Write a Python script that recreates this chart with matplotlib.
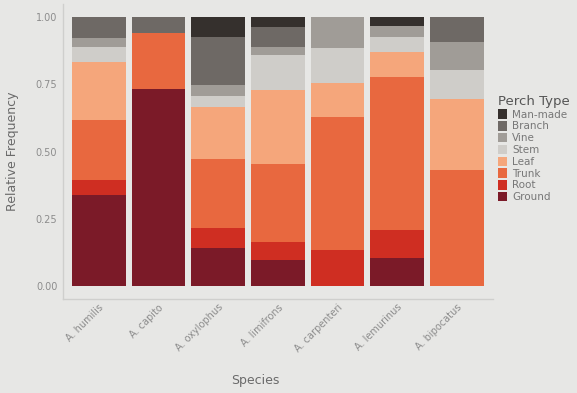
import numpy as np
import matplotlib.pyplot as plt

# species along the x axis
species = ["A. humilis", "A. capito", "A. oxylophus", "A. limifrons",
           "A. carpenteri", "A. lemurinus", "A. bipocatus"]

# relative frequency of each perch type per species (bottom to top)
ground   = [0.338, 0.732, 0.141, 0.097, 0.000, 0.104, 0.000]
root     = [0.056, 0.000, 0.075, 0.067, 0.134, 0.104, 0.000]
trunk    = [0.223, 0.208, 0.256, 0.289, 0.494, 0.569, 0.431]
leaf     = [0.216, 0.000, 0.193, 0.276, 0.127, 0.093, 0.264]
stem     = [0.055, 0.000, 0.041, 0.130, 0.130, 0.056, 0.108]
vine     = [0.034, 0.000, 0.041, 0.029, 0.115, 0.041, 0.104]
branch   = [0.078, 0.060, 0.179, 0.075, 0.000, 0.000, 0.093]
man_made = [0.000, 0.000, 0.074, 0.037, 0.000, 0.033, 0.000]

perch_types = ["Ground", "Root", "Trunk", "Leaf", "Stem", "Vine", "Branch", "Man-made"]
perch_values = [ground, root, trunk, leaf, stem, vine, branch, man_made]
perch_colors = ["#7b1a28", "#cf2e22", "#e8683f", "#f5a67b",
                "#cfcdc9", "#a09c97", "#6e6965", "#35302d"]

bg = "#e7e7e5"
txt = "#8c8c8c"

fig = plt.figure(figsize=(5.77, 3.93), dpi=100, facecolor=bg)
ax = fig.add_axes([0.109, 0.238, 0.745, 0.753], facecolor=bg)

x = np.arange(1, len(species) + 1)
bottom = np.zeros(len(species))
for name, vals, col in zip(perch_types, perch_values, perch_colors):
    vals = np.array(vals)
    ax.bar(x, vals, width=0.9, bottom=bottom, color=col, label=name,
           linewidth=0)
    bottom += vals

ax.set_xlim(0.4, len(species) + 0.6)
ax.set_ylim(-0.05, 1.05)
ax.set_yticks([0, 0.25, 0.5, 0.75, 1.0])
ax.set_yticklabels(["0.00", "0.25", "0.50", "0.75", "1.00"])
ax.set_xticks(x)
ax.set_xticklabels(species, rotation=45, ha="right", va="top",
                   rotation_mode="anchor")
ax.tick_params(axis="both", colors=txt, labelsize=7, length=0, pad=4)
ax.tick_params(axis="x", labelsize=7, pad=2)

for key in ("top", "right"):
    ax.spines[key].set_visible(False)
for key in ("left", "bottom"):
    ax.spines[key].set_color("#cfcfcd")
    ax.spines[key].set_linewidth(1.0)

ax.set_ylabel("Relative Frequency", color="#6a6a6a", fontsize=9, labelpad=12)
ax.set_xlabel("Species", color="#6a6a6a", fontsize=9)
ax.xaxis.set_label_coords(0.447, -0.275)
ax.xaxis.label.set_va("center")

handles, labels = ax.get_legend_handles_labels()
leg = ax.legend(handles[::-1], labels[::-1], title="Perch Type",
                loc="center left", bbox_to_anchor=(0.99, 0.51),
                frameon=False, fontsize=7.5, title_fontsize=9.5,
                handlelength=0.9, handleheight=1.0, handletextpad=0.5,
                labelspacing=0.15, borderaxespad=0.5)
leg._legend_box.align = "left"
plt.setp(leg.get_texts(), color="#777777")
leg.get_title().set_color("#555555")

fig.savefig("out.png", dpi=100, facecolor=bg)
